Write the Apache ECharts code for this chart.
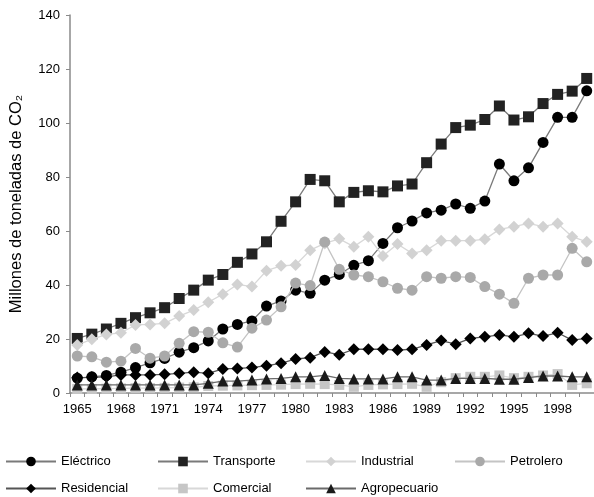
<!DOCTYPE html>
<html>
<head>
<meta charset="utf-8">
<script src="https://cdn.jsdelivr.net/npm/echarts@6/dist/echarts.min.js"></script>
<style>html,body{margin:0;padding:0;background:#fff;}#c{width:594px;height:497px;}</style>
</head>
<body>
<div id="c"></div>
<script>
var years = ['1965','1966','1967','1968','1969','1970','1971','1972','1973','1974','1975','1976','1977','1978','1979','1980','1981','1982','1983','1984','1985','1986','1987','1988','1989','1990','1991','1992','1993','1994','1995','1996','1997','1998','1999','2000'];
var yTicks = [0, 20, 40, 60, 80, 100, 120, 140];
var seriesNames = ['Eléctrico','Transporte','Industrial','Petrolero','Residencial','Comercial','Agropecuario'];
var electrico = [5.5, 6.0, 6.5, 7.7, 9.4, 11.2, 12.8, 15.1, 16.8, 19.3, 23.7, 25.4, 26.7, 32.2, 34.1, 38.1, 36.9, 41.8, 43.9, 47.3, 49.0, 55.4, 61.2, 63.7, 66.7, 67.7, 70.0, 68.4, 71.1, 84.8, 78.6, 83.4, 92.8, 102.1, 102.1, 111.9];
var transporte = [20.2, 21.8, 23.7, 25.8, 27.9, 29.7, 31.6, 35.0, 38.1, 41.8, 43.9, 48.4, 51.5, 56.0, 63.6, 70.8, 79.1, 78.6, 70.8, 74.3, 74.9, 74.5, 76.7, 77.4, 85.3, 92.2, 98.3, 99.2, 101.3, 106.3, 101.1, 102.3, 107.2, 110.6, 111.8, 116.5];
var industrial = [17.8, 19.9, 21.7, 22.3, 25.2, 25.4, 25.8, 28.5, 30.7, 33.6, 36.6, 40.2, 39.4, 45.3, 47.1, 47.4, 52.9, 55.4, 57.1, 54.2, 57.9, 50.7, 55.2, 51.7, 52.9, 56.4, 56.4, 56.4, 56.9, 60.6, 61.6, 62.8, 61.6, 62.8, 57.9, 56.0];
var petrolero = [13.7, 13.4, 11.4, 11.8, 16.5, 12.9, 13.7, 18.4, 22.7, 22.5, 18.6, 17.0, 24.0, 27.0, 31.9, 40.7, 39.8, 55.9, 45.8, 43.7, 43.1, 41.2, 38.8, 38.1, 43.1, 42.5, 43.1, 42.8, 39.4, 36.6, 33.2, 42.5, 43.7, 43.7, 53.6, 48.6];
var residencial = [5.7, 5.8, 6.0, 6.7, 6.7, 6.7, 6.9, 7.3, 7.7, 7.3, 8.9, 9.1, 9.4, 10.1, 11.0, 12.6, 13.1, 15.2, 14.2, 16.2, 16.2, 16.2, 15.9, 16.2, 17.8, 19.4, 18.1, 20.2, 20.8, 21.5, 20.8, 22.1, 21.1, 22.3, 19.6, 20.2];
var comercial = [1.5, 1.5, 1.6, 1.7, 1.8, 1.8, 1.9, 2.0, 2.1, 2.6, 2.7, 2.8, 2.9, 3.0, 3.1, 3.3, 3.4, 3.3, 3.0, 2.3, 3.0, 3.2, 3.3, 3.4, 2.3, 4.0, 5.5, 6.0, 6.0, 6.5, 5.5, 6.0, 6.5, 7.0, 3.0, 3.6];
var agropecuario = [3.0, 3.0, 3.0, 3.0, 3.0, 3.0, 3.0, 3.0, 3.0, 3.6, 4.4, 4.4, 4.8, 5.2, 5.4, 6.0, 6.0, 6.5, 5.4, 5.2, 5.2, 5.2, 6.0, 6.0, 4.8, 4.8, 5.4, 5.4, 5.4, 5.1, 5.1, 5.7, 6.3, 6.3, 6.0, 6.0];

var allData = [electrico, transporte, industrial, petrolero, residencial, comercial, agropecuario];
var styles = [
  {symbol:'circle', size:11, color:'#000000', line:'#7a7a7a'},
  {symbol:'rect', size:11, color:'#222222', line:'#7a7a7a'},
  {symbol:'diamond', size:12, color:'#d2d2d2', line:'#d8d8d8'},
  {symbol:'circle', size:11, color:'#a9a9a9', line:'#c4c4c4'},
  {symbol:'diamond', size:12, color:'#000000', line:'#555555'},
  {symbol:'rect', size:10, color:'#c6c6c6', line:'#d8d8d8'},
  {symbol:'triangle', size:11, color:'#1a1a1a', line:'#6a6a6a'}
];
var legendPos = [
  {left:5, top:455}, {left:157, top:455}, {left:305, top:455}, {left:454, top:455},
  {left:5, top:482}, {left:157, top:482}, {left:305, top:482}
];

var series = seriesNames.map(function(n, i){
  var s = styles[i];
  return {
    name: n, type: 'line', data: allData[i],
    symbol: s.symbol, symbolSize: s.size, showAllSymbol: true,
    itemStyle: {color: s.color},
    lineStyle: {color: s.line, width: 1.3},
    animation: false, z: 2 + i
  };
});
var legends = seriesNames.map(function(n, i){
  return {
    data: [n], left: legendPos[i].left, top: legendPos[i].top,
    itemWidth: 50, itemHeight: 12, itemGap: 0,
    textStyle: {fontFamily: 'Liberation Sans, Arial, sans-serif', fontSize: 13, color: '#000'},
    padding: 0, selectedMode: false
  };
});

var chart = echarts.init(document.getElementById('c'), null, {renderer: 'canvas'});
chart.setOption({
  backgroundColor: '#ffffff',
  animation: false,
  legend: legends,
  grid: {left: 68, right: 0, top: 15, bottom: 104},
  xAxis: {
    type: 'category', data: years, boundaryGap: true,
    axisLine: {lineStyle: {color: '#8a8a8a', width: 1.5}},
    axisTick: {show: true, interval: 0, length: 4, inside: false, lineStyle: {color: '#8a8a8a'}},
    axisLabel: {interval: 2, fontFamily: 'Liberation Sans, Arial, sans-serif', fontSize: 13, color: '#000', margin: 10}
  },
  yAxis: {
    type: 'value', min: yTicks[0], max: yTicks[yTicks.length-1], interval: 20,
    name: 'Millones de toneladas de CO₂', nameLocation: 'middle', nameGap: 45, nameRotate: 90,
    nameTextStyle: {fontFamily: 'Liberation Sans, Arial, sans-serif', fontSize: 16.5, color: '#000'},
    axisLine: {show: true, lineStyle: {color: '#8a8a8a', width: 1.5}},
    axisTick: {show: true, length: 4, lineStyle: {color: '#8a8a8a'}},
    splitLine: {show: false},
    axisLabel: {fontFamily: 'Liberation Sans, Arial, sans-serif', fontSize: 13, color: '#000', margin: 10}
  },
  series: series
});
</script>
</body>
</html>
